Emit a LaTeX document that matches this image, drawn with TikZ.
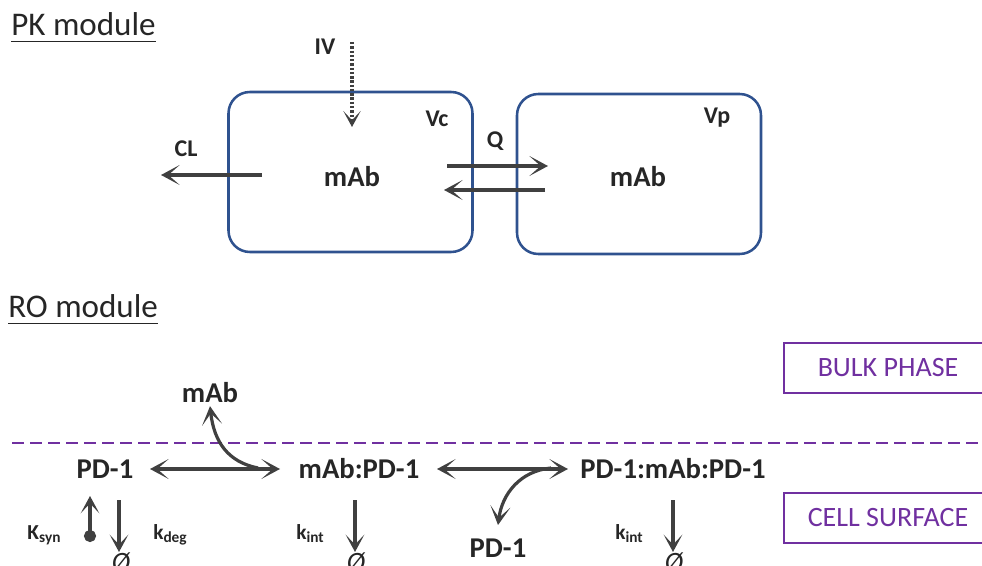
\documentclass[tikz,border=0pt]{standalone}
\usepackage{fontspec}
\setmainfont{Carlito}
\usetikzlibrary{arrows.meta}
\definecolor{ink}{RGB}{38,38,38}
\definecolor{arrowgray}{RGB}{64,64,64}
\definecolor{boxblue}{RGB}{47,82,143}
\definecolor{phase}{RGB}{112,48,160}
% rate constant with a lowered, smaller index
\newcommand{\ratek}[2]{#1\raisebox{-0.35ex}{\fontsize{11.5}{13}\selectfont #2}}
\begin{document}
\begin{tikzpicture}[x=0.75pt,y=-0.75pt,
  title/.style={font=\fontsize{24.8}{28}\selectfont, text=ink, anchor=base west, inner sep=0pt},
  species/.style={font=\bfseries\fontsize{21.5}{25}\selectfont, text=ink, anchor=base, inner sep=0pt},
  param/.style={font=\bfseries\fontsize{18}{21}\selectfont, text=ink, anchor=base, inner sep=0pt},
  rate/.style={font=\bfseries\fontsize{16}{19}\selectfont, text=ink, anchor=base, inner sep=0pt},
  sink/.style={font=\itshape\fontsize{21}{24}\selectfont, text=ink, anchor=north, inner sep=0pt},
  compartment/.style={draw=boxblue, line width=1.9pt, rounded corners=16pt,
    minimum width=183pt, minimum height=120pt},
  phasebox/.style={draw=phase, line width=1.4pt, text=phase, font=\fontsize{21}{24}\selectfont,
    minimum width=156pt, minimum height=37.5pt},
  flow/.style={draw=arrowgray, line width=2.4pt, -{Stealth[length=14pt,width=15pt,inset=8.5pt]}},
  bothflow/.style={draw=arrowgray, line width=2.4pt,
    {Stealth[length=14pt,width=15pt,inset=8.5pt]}-{Stealth[length=14pt,width=15pt,inset=8.5pt]}},
  turnover/.style={draw=arrowgray, line width=2.3pt, -{Stealth[length=13pt,width=14pt,inset=7.5pt]}},
  dose/.style={draw=arrowgray, line width=2.3pt, dash pattern=on 1.8pt off 1.4pt,
    -{Stealth[length=12pt,width=13pt,inset=7pt]}},
  uline/.style={draw=ink, line width=1.4pt},
]
\useasboundingbox (0,0) rectangle (982,566);
\clip (0,0) rectangle (982,566);

% ---------------- PK module ----------------
\node[title] (pkt) at (11,36) {PK module};
\draw[uline] ([yshift=-3.75pt]pkt.south west) -- ([yshift=-3.75pt]pkt.south east);

\node[compartment] (central) at (350.5,172) {};
\node[compartment] (periph) at (639,174) {};
\node[species] (mabc) at (352,187) {mAb};
\node[species] (mabp) at (638,187) {mAb};
\node[param] (vc) at (437,127) {Vc};
\node[param] (vp) at (717,124) {Vp};
\node[param] (iv) at (325,55) {IV};
\node[param] (cl) at (186,157) {CL};
\node[param] (q) at (495,148) {Q};

\coordinate (ivS) at (352,42);
\coordinate (ivE) at (352,127);
\draw[dose] (ivS) -- (ivE);

\coordinate (clS) at (262,175);
\coordinate (clE) at (161,175);
\draw[flow] (clS) -- (clE);

\coordinate (qaS) at (447,166);
\coordinate (qaE) at (548,166);
\coordinate (qbS) at (545,190);
\coordinate (qbE) at (444,190);
\draw[flow] (qaS) -- (qaE);
\draw[flow] (qbS) -- (qbE);

% ---------------- RO module ----------------
\node[title] (rot) at (8,318) {RO module};
\draw[uline] ([yshift=-3.75pt]rot.south west) -- ([yshift=-3.75pt]rot.south east);

\node[phasebox] (bulk) at (888,368) {BULK PHASE};
\node[phasebox] (cell) at (888,518) {CELL SURFACE};

\coordinate (memL) at (12,443);
\coordinate (memR) at (982,443);
\draw[draw=phase, line width=1.5pt, dash pattern=on 9pt off 4.5pt] (memL) -- (memR);

\node[species] (mabfree) at (210,403) {mAb};
\node[species] (pd1) at (105,479) {PD-1};
\node[species] (cplx) at (359,479) {mAb:PD-1};
\node[species] (dimer) at (673,479) {PD-1:mAb:PD-1};
\node[species] (pd1rel) at (498,557) {PD-1};

% binding equilibria
\coordinate (eqAL) at (150,469);
\coordinate (eqAR) at (280,469);
\coordinate (eqBL) at (437,469);
\coordinate (eqBR) at (568,469);
\draw[bothflow] (eqAL) -- (eqAR);
\draw[bothflow] (eqBL) -- (eqBR);
\coordinate (bindA) at (258,468);
\draw[flow] (bindA) .. controls (228,462) and (214,442) .. ([yshift=-2pt]mabfree.south);
\coordinate (bindB) at (551,468);
\draw[flow] (bindB) .. controls (520,471) and (502,494) .. (498,525);

% synthesis, degradation and internalisation
\node[rate] (ksyn) at (44,539) {\ratek{K}{syn}};
\node[rate] (kdeg) at (170,539) {\ratek{k}{deg}};
\node[rate] (kint1) at (310,539) {\ratek{k}{int}};
\node[rate] (kint2) at (629,539) {\ratek{k}{int}};

\node[sink] (sink1) at (121,552) {Ø};
\node[sink] (sink2) at (356,552) {Ø};
\node[sink] (sink3) at (674,552) {Ø};

\coordinate (synS) at (90,542);
\coordinate (synE) at (90,496);
\draw[turnover, {Circle[length=9pt]}-{Stealth[length=13pt,width=14pt,inset=7.5pt]}] (synS) -- (synE);
\draw[turnover] (119,500) -- (sink1.north -| 119,0);
\draw[turnover] (355,500) -- (sink2.north -| 355,0);
\draw[turnover] (673,500) -- (sink3.north -| 673,0);
\end{tikzpicture}
\end{document}
